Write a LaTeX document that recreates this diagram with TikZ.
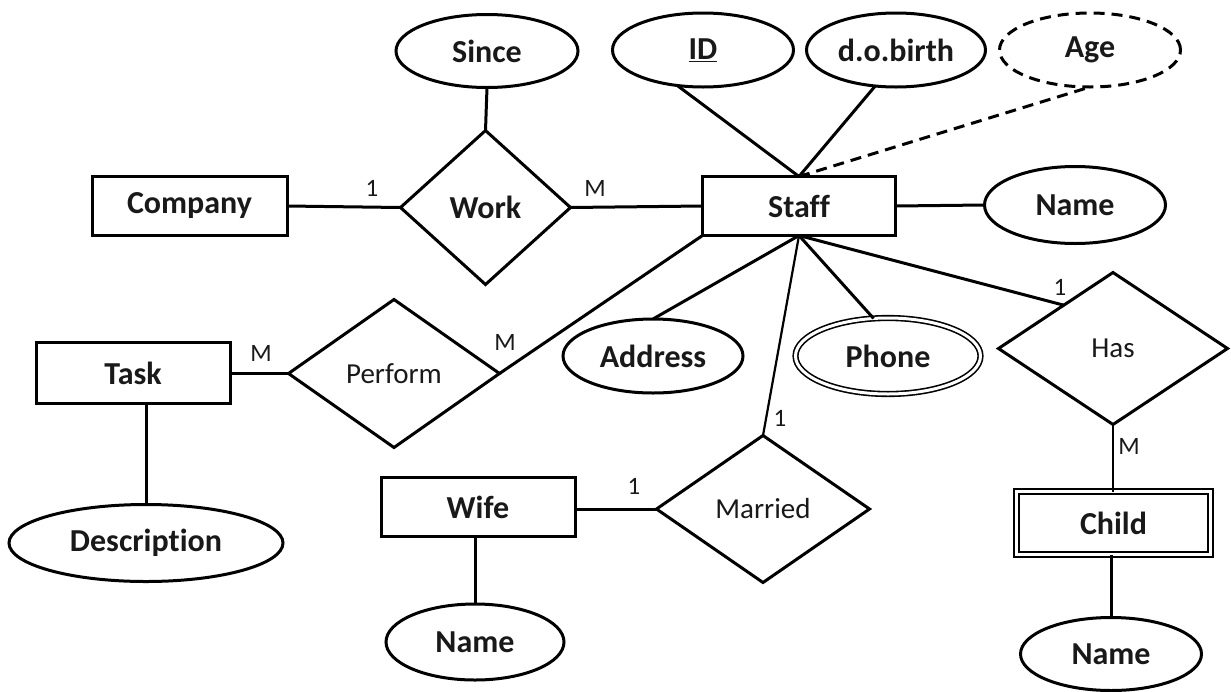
\documentclass[tikz,border=0pt]{standalone}
\usepackage{fontspec}
\setmainfont[Ligatures=NoCommon]{Carlito}
\usetikzlibrary{shapes.geometric,calc}
\newcommand\erbold{\fontsize{32}{38}\selectfont\bfseries}
\newcommand\erreg{\fontsize{29}{34}\selectfont}
\newcommand\ercard{\fontsize{25}{30}\selectfont}
\begin{document}
\begin{tikzpicture}[x=1pt,y=-1pt,
  every node/.style={inner sep=0pt, outer sep=0pt, text=black!90},
  ent/.style={draw, line width=3pt, rectangle, minimum width=#1, minimum height=59pt, font=\erbold},
  attr/.style={draw, line width=3pt, ellipse, font=\erbold},
  rel/.style={draw, line width=3pt, diamond, font=\erreg},
  card/.style={font=\ercard},
  conn/.style={line width=3pt},
  thinconn/.style={line width=2.2pt}]
\useasboundingbox (0,0) rectangle (1231,691);

% entities
\node[ent=195] (company) at (189.5,206) {Company};
\node[ent=193] (staff) at (799,206) {Staff};
\node[ent=194,minimum height=61pt] (task) at (133,373) {Task};
\node[ent=194,minimum height=59pt] (wife) at (478,507) {Wife};
\node[draw, line width=1.8pt, double, double distance=3.6pt, rectangle,
      minimum width=194pt, minimum height=63pt, font=\erbold] (child) at (1113.5,523) {Child};

% relationships
\node[rel, minimum width=170pt, minimum height=154pt, font=\erbold] (work) at (485.5,207.5) {Work};
\node[rel, minimum width=211pt, minimum height=148pt] (perform) at (394,373.5) {Perform};
\node[rel, minimum width=213pt, minimum height=147pt] (married) at (763,509) {Married};
\node[rel, minimum width=229pt, minimum height=152pt] (has) at (1113,348.5) {Has};

% attributes
\node[attr, minimum width=182pt, minimum height=73pt] (since) at (487,51) {Since};
\node[attr, minimum width=181pt, minimum height=74pt] (id) at (703,50) {\underline{ID}};
\node[attr, minimum width=179pt, minimum height=74pt] (dob) at (896,50) {d.o.birth};
\node[attr, minimum width=181pt, minimum height=74pt, dash pattern=on 11pt off 7pt] (age) at (1090,50) {Age};
\node[attr, minimum width=181pt, minimum height=77pt] (sname) at (1075,205) {Name};
\node[attr, minimum width=180pt, minimum height=74pt] (address) at (653,356) {Address};
\node[draw, line width=1.6pt, double, double distance=3pt, ellipse, font=\erbold,
      minimum width=185pt, minimum height=76pt] (phone) at (888,356) {Phone};
\node[attr, minimum width=274pt, minimum height=77pt] (desc) at (146,543) {Description};
\node[attr, minimum width=178pt, minimum height=76pt] (wname) at (475,642) {Name};
\node[attr, minimum width=181pt, minimum height=73pt] (cname) at (1111,654) {Name};

% connectors
\draw[conn] (company.east) -- (work.west);
\draw[conn] (work.east) -- (staff.west);
\draw[conn] (since.south) -- (work.north);
\draw[conn] (staff.east) -- (sname.west);
\draw[conn] (staff.north) -- (id.234);
\draw[conn] (staff.north) -- (dob.240);
\draw[conn, dash pattern=on 11pt off 7pt] (staff.north) -- (age.south);
\draw[conn] (staff.south) -- (address.north);
\draw[conn] (staff.south) -- (phone.111);
\draw[thinconn] (staff.south) -- (married.north);
\draw[conn] (staff.south) -- ($(has.west)!0.57!(has.north)$);
\draw[conn] (perform.east) -- (staff.south west);
\draw[conn] (task.east |- perform.west) -- (perform.west);
\draw[conn] (task.south -| desc.north) -- (desc.north);
\draw[conn] (wife.east |- married.west) -- (married.west);
\draw[conn] (wife.south -| wname.north) -- (wname.north);
\draw[thinconn] (has.south) -- (child.north -| has.south);
\draw[conn] (child.south -| cname.north) -- (cname.north);

% cardinalities
\node[card] (k1) at (372,188) {1};
\node[card] (k2) at (595,188) {M};
\node[card] (k3) at (261,353) {M};
\node[card] (k4) at (505,342) {M};
\node[card] (k5) at (780,418) {1};
\node[card] (k6) at (634,486) {1};
\node[card] (k7) at (1060,287) {1};
\node[card] (k8) at (1129,446) {M};
\end{tikzpicture}
\end{document}
